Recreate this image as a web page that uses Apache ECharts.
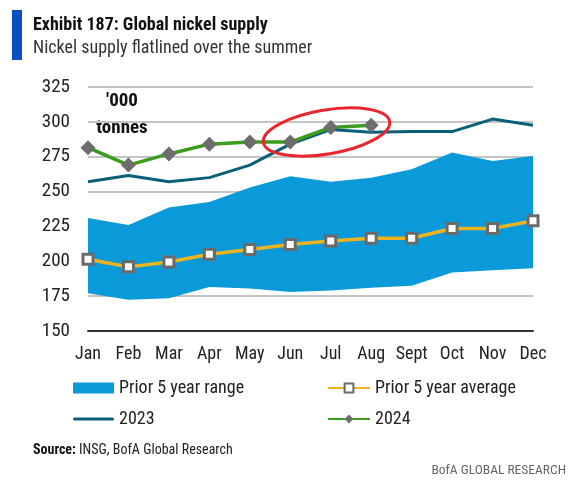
<!DOCTYPE html>
<html>
<head>
<meta charset="utf-8">
<script src="https://cdn.jsdelivr.net/npm/echarts@6/dist/echarts.min.js"></script>
<style>
html,body{margin:0;padding:0;background:#fff;}
#chart{width:572px;height:484px;}
</style>
</head>
<body>
<div id="chart"></div>
<script>
var months = ['Jan','Feb','Mar','Apr','May','Jun','Jul','Aug','Sept','Oct','Nov','Dec'];
var rangeLow  = [177, 172.5, 173.5, 181.5, 180.5, 178, 179, 181, 182.5, 192, 193.5, 195];
var rangeHigh = [231, 226, 238.5, 242.5, 253, 261, 257, 260, 266, 278, 272, 275.5];
var avg5      = [201.5, 196, 199.5, 205, 208.5, 212, 214.5, 216.5, 216.5, 223.5, 223.5, 229];
var y2023     = [257, 261.5, 257, 260, 269, 284, 294.5, 292.5, 293, 293, 302, 297.5];
var y2024     = [281.5, 269, 277, 284, 285.5, 285.5, 296, 297.5];
var yTicks = [150, 175, 200, 225, 250, 275, 300, 325];

var rangeSpan = rangeHigh.map(function(v, i){ return +(v - rangeLow[i]).toFixed(2); });

var FONT = "'Roboto Condensed', 'Liberation Sans', sans-serif";
var chart = echarts.init(document.getElementById('chart'), null, {renderer:'canvas'});

var option = {
  animation: false,
  backgroundColor: '#ffffff',
  grid: {left: 88, right: 39, top: 87, bottom: 153, containLabel: false},
  xAxis: {
    type: 'category',
    data: months,
    boundaryGap: false,
    axisLine: {show: true, lineStyle: {color: '#333333', width: 2}},
    axisTick: {show: false},
    axisLabel: {color: '#222', fontSize: 18, fontFamily: FONT, margin: 14, interval: 0},
    splitLine: {show: false}
  },
  yAxis: {
    type: 'value',
    min: yTicks[0], max: yTicks[yTicks.length-1], interval: 25,
    axisLine: {show: false},
    axisTick: {show: false},
    axisLabel: {color: '#222', fontSize: 19, fontFamily: FONT, margin: 18},
    splitLine: {show: true, lineStyle: {color: '#c4c4c4', width: 2}}
  },
  legend: [
    {
      orient: 'vertical', left: 73, top: 378, padding: 0, itemWidth: 41, itemHeight: 11, itemGap: 11,
      textStyle: {fontSize: 18, fontFamily: FONT, color: '#222', lineHeight: 20},
      data: [
        {name: 'Prior 5 year range', icon: 'rect'},
        {name: '2023', icon: 'path://M1.5,0 L38.5,0 A1.5,1.5 0 0 1 38.5,3 L1.5,3 A1.5,1.5 0 0 1 1.5,0 Z'}
      ]
    },
    {
      orient: 'vertical', left: 327, top: 378, padding: 0, itemWidth: 42, itemHeight: 11, itemGap: 11,
      textStyle: {fontSize: 18, fontFamily: FONT, color: '#222', lineHeight: 20},
      data: [
        {name: 'Prior 5 year average'},
        {name: '2024'}
      ]
    }
  ],
  series: [
    {
      name: 'rangeBase', type: 'line', stack: 'range', data: rangeLow,
      symbol: 'none', lineStyle: {width: 0, opacity: 0}, areaStyle: {opacity: 0},
      silent: true, z: 1
    },
    {
      name: 'Prior 5 year range', type: 'line', stack: 'range', data: rangeSpan,
      symbol: 'none', lineStyle: {width: 0, opacity: 0},
      itemStyle: {color: '#0a9ad9'},
      areaStyle: {color: '#0a9ad9', opacity: 1}, z: 1
    },
    {
      name: 'Prior 5 year average', type: 'line', data: avg5,
      symbol: 'rect', symbolSize: 10,
      lineStyle: {color: '#f0b31e', width: 3.5},
      itemStyle: {color: '#ffffff', borderColor: '#6a6a6a', borderWidth: 3},
      z: 3
    },
    {
      name: '2023', type: 'line', data: y2023,
      symbol: 'none',
      lineStyle: {color: '#0b6079', width: 3},
      itemStyle: {color: '#0b6079'},
      z: 4
    },
    {
      name: '2024', type: 'line', data: y2024,
      symbol: 'diamond', symbolSize: 15,
      lineStyle: {color: '#3c9c1c', width: 3.5},
      itemStyle: {color: '#6d6d6d', borderColor: '#6d6d6d', borderWidth: 0},
      z: 5
    }
  ],
  graphic: [
    {type: 'rect', left: 12, top: 10, shape: {width: 10, height: 50}, style: {fill: '#0b4fc4'}},
    {type: 'text', x: 33, y: 25, style: {text: 'Exhibit 187: Global nickel supply', font: 'bold 18px ' + FONT, fill: '#111', verticalAlign: 'middle'}},
    {type: 'text', x: 33, y: 48, style: {text: 'Nickel supply flatlined over the summer', font: '18px ' + FONT, fill: '#333', verticalAlign: 'middle'}},
    {type: 'text', x: 122, y: 101, style: {text: "'000", font: 'bold 19px ' + FONT, fill: '#111', align: 'center', verticalAlign: 'middle'}},
    {type: 'text', x: 122, y: 128, style: {text: 'tonnes', font: 'bold 19px ' + FONT, fill: '#111', align: 'center', verticalAlign: 'middle'}},
    {type: 'ellipse', x: 326.5, y: 132, rotation: 0.165, shape: {cx: 0, cy: 0, rx: 64, ry: 22}, style: {fill: 'none', stroke: '#e8262c', lineWidth: 3}, z: 100},
    {type: 'text', x: 33, y: 450, style: {
      text: '{b|Source:} INSG, BofA Global Research',
      font: '14px ' + FONT, fill: '#222', verticalAlign: 'middle',
      rich: {b: {fontWeight: 'bold', fontSize: 14, fontFamily: FONT, fill: '#111'}}
    }},
    {type: 'text', x: 566, y: 471, style: {text: 'BofA GLOBAL RESEARCH', font: '13.5px ' + FONT, fill: '#666', align: 'right', verticalAlign: 'middle'}}
  ]
};
chart.setOption(option);
</script>
</body>
</html>
